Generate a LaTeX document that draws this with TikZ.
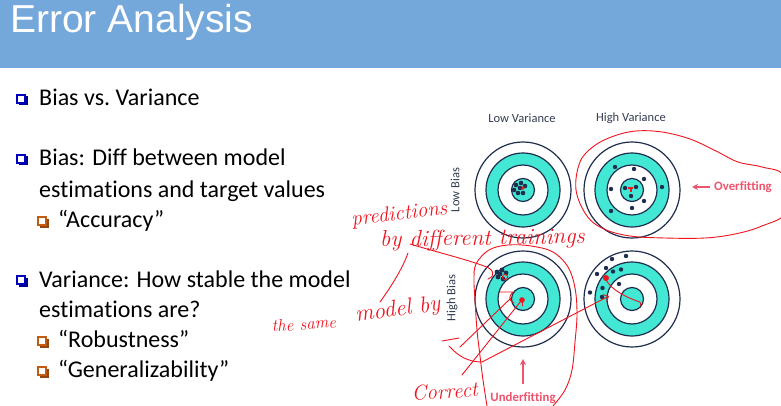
\documentclass[tikz,border=0pt]{standalone}
\usepackage{fontspec}
\newfontfamily\bodyfont{Carlito}[Ligatures=NoCommon]
\newfontfamily\titlefont{Liberation Sans}
\usetikzlibrary{arrows.meta}

\definecolor{band}{RGB}{116,168,219}
\definecolor{navy}{RGB}{31,45,78}
\definecolor{tealfill}{RGB}{66,232,212}
\definecolor{fitpink}{RGB}{238,84,110}
\definecolor{inkred}{RGB}{240,20,30}
\definecolor{bulblue}{RGB}{0,0,190}
\definecolor{bulorange}{RGB}{197,90,17}
\definecolor{labelgray}{RGB}{50,60,80}

\tikzset{
  titletext/.style={font=\titlefont\fontsize{39}{47}\selectfont, text=white, inner sep=0pt},
  body/.style={font=\bodyfont\fontsize{24}{29}\selectfont, inner sep=0pt, anchor=base west},
  smalllabel/.style={font=\bodyfont\fontsize{12.5}{15}\selectfont, text=labelgray, inner sep=0pt},
  fitlabel/.style={font=\bodyfont\bfseries\fontsize{12.8}{15}\selectfont, text=fitpink, inner sep=0pt},
  fitarrow/.style={draw=fitpink, line width=2pt, -{Stealth[length=6pt,width=6pt]}},
  ring/.style={draw=navy, line width=1.2pt},
  shot/.style={fill=navy},
  ink/.style={draw=inkred, line width=0.9pt, line cap=round, line join=round},
  hand/.style={text=inkred, inner sep=0pt, anchor=base west},
  bulbox/.style={draw=#1, line width=1.3pt, minimum size=8pt, inner sep=0pt, fill=white},
}

% handwriting-like italic at a given size
\newcommand\handsize[1]{\itshape\fontsize{#1}{#1}\selectfont}

% square outline bullet with a drop shadow
\newcommand\sqbullet[3]{%
  \fill[#3!75!black] ([xshift=2pt,yshift=-2pt]#1) ++(-4.5,-4.5) rectangle ++(9,9);
  \node[bulbox=#3] (#2) at (#1) {};
}

% archery target: outer ring, teal band, white band, teal bull
\newcommand\target[1]{%
  \filldraw[ring, fill=white] (#1) circle (48);
  \filldraw[ring, fill=tealfill] (#1) circle (37);
  \filldraw[ring, fill=white] (#1) circle (25);
  \filldraw[ring, fill=tealfill] (#1) circle (11.5);
}

\begin{document}
\begin{tikzpicture}[x=1pt,y=-1pt]
\useasboundingbox (0,0) rectangle (781,406);
\fill[white] (0,0) rectangle (781,406);

% header band
\fill[band] (0,0) rectangle (781,68);
\node[titletext, anchor=base west] (title) at (10,33) {Error Analysis};

% bullet list
\sqbullet{21,99}{q1}{bulblue}
\node[body] (b1) at (39,106) {Bias vs.\ Variance};
\sqbullet{21,159}{q2}{bulblue}
\node[body] (b2) at (39,166) {Bias: Diff between model};
\node[body] (b2b) at (39,197) {estimations and target values};
\sqbullet{42,221}{q3}{bulorange}
\node[body] (s1) at (58,227) {“Accuracy”};
\sqbullet{21,280}{q4}{bulblue}
\node[body] (b3) at (39,287) {Variance: How stable the model};
\node[body] (b3b) at (39,317) {estimations are?};
\sqbullet{42,341}{q5}{bulorange}
\node[body] (s2) at (58,347) {“Robustness”};
\sqbullet{42,371}{q6}{bulorange}
\node[body] (s3) at (58,377) {“Generalizability”};

% targets
\coordinate (t1) at (523,190);
\coordinate (t2) at (632,190);
\coordinate (t3) at (523,299);
\coordinate (t4) at (632,299);
\target{t1}
\target{t2}
\target{t3}
\target{t4}

\node[smalllabel] (lv) at (522,118) {Low Variance};
\node[smalllabel] (hv) at (631,118) {High Variance};
\node[smalllabel, rotate=90] (lb) at (455,190) {Low Bias};
\node[smalllabel, rotate=90] (hb) at (452,298) {High Bias};

% shots: low bias, low variance
\foreach \p in {(516,185),(521,183),(525,186),(514,190),(518,193),(523,193),(520,188)}
  \fill[shot] \p circle (2.3);
% shots: low bias, high variance
\foreach \p in {(615,167),(634,169),(644,179),(611,189),(625,188),(636,187),(662,187),(631,196),(644,201),(611,211),(632,208)}
  \fill[shot] \p circle (2.2);
% shots: high bias, low variance
\foreach \p in {(497,272),(502,270),(506,273),(498,277),(503,279),(500,274)}
  \fill[shot] \p circle (2.4);
% shots: high bias, high variance
\foreach \p in {(626,256),(612,259),(606,268),(613,271.5),(621,269.5),(597,274),(619,284),(602.5,288),(590,292.5),(602,297)}
  \fill[shot] \p circle (2.2);

% fitting labels
\node[fitlabel, anchor=west] (over) at (714,187.5) {Overfitting};
\coordinate (overtail) at (710,187);
\draw[fitarrow] (overtail) -- (692,187);
\node[fitlabel] (under) at (523,398) {Underfitting};
\coordinate (undertail) at (523,384);
\draw[fitarrow] (undertail) -- (523,359);

% red ink notes
\fill[inkred] (523,188) circle (1.8);
\fill[inkred] (628,187.5) rectangle (633,189.5);
\fill[inkred] (630,188) rectangle (631.5,192);
\draw[ink] (505,277) circle (2.6);
\fill[inkred] (522,300) circle (2.8);
\draw[ink] (522,300) -- (522,306);
\fill[inkred] (606,278) circle (3);
\draw[ink] (606,280) .. controls (612,290) and (625,297) .. (640,302) -- (641,306);

% loop around the overfitting target
\draw[ink] plot[smooth cycle, tension=0.6] coordinates {
  (576,190) (580,162) (594,146) (614,136) (636,131) (662,132) (690,139)
  (716,151) (738,162) (762,167) (784,176) (786,212) (762,226) (735,234)
  (705,238) (665,238) (630,236) (604,229) (587,216)};

% loop around the underfitting target
\draw[ink] plot[smooth, tension=0.6] coordinates {
  (487,406) (483,380) (480,356) (477,330) (475,300) (474,280) (476,264)
  (489,250) (508,245) (531,246) (553,252) (568,267) (575,288) (577,314)
  (575,342) (572,370) (565,390) (553,406)};

% handwriting
\node[hand, rotate=7, font=\handsize{21}] (pred) at (352,226) {predictions};
\node[hand, rotate=1, font=\handsize{23}] (diff) at (380,247) {by different trainings};
\node[hand, rotate=4, font=\handsize{17}] (same) at (272,332) {the same};
\node[hand, rotate=8, font=\handsize{23}] (model) at (356,322) {model by};
\node[hand, rotate=4, font=\handsize{21}] (corr) at (412,401) {Correct};

% strokes tying the notes to the targets
\draw[ink] (408,253) .. controls (402,270) and (390,288) .. (380,302);
\draw[ink] (410,244) .. controls (440,253) and (465,259) .. (484,266)
  .. controls (494,269) and (496,276) .. (488,279);
\draw[ink] (500,292) -- (513,292) .. controls (509,296) and (508,300) .. (514,303);
\draw[ink] (442,341) -- (459,338);
\draw[ink] (460,347) -- (511,298);
\draw[ink] (462,375) -- (521,301);
\draw[ink, -{Straight Barb[length=4pt]}] (449,346) .. controls (458,356) and (468,362) .. (482,362)
  -- (609,296);
\end{tikzpicture}
\end{document}
